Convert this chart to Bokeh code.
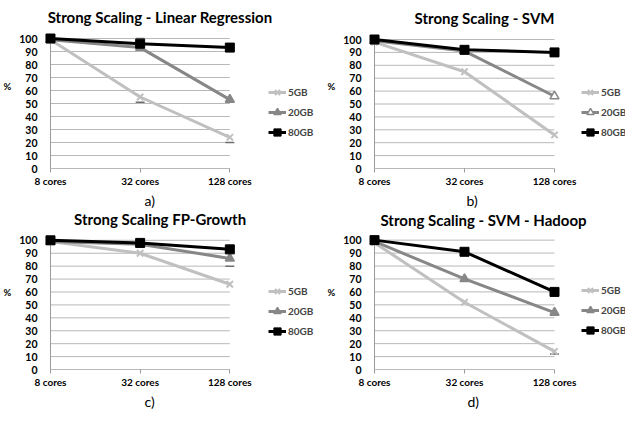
from bokeh.plotting import figure
from bokeh.models import Range1d, FixedTicker, Legend, LegendItem, Title, Label
from bokeh.layouts import column, row
from bokeh.embed import file_html
from bokeh.resources import INLINE

# ---------------- data ----------------
categories = ["8 cores", "32 cores", "128 cores"]
series_names = ["5GB", "20GB", "80GB"]
y_ticks = [0, 10, 20, 30, 40, 50, 60, 70, 80, 90, 100]

titles = ["Strong Scaling - Linear Regression", "Strong Scaling - SVM",
          "Strong Scaling FP-Growth", "Strong Scaling - SVM - Hadoop"]
captions = ["a)", "b)", "c)", "d)"]

lr_5gb = [99, 55, 24]
lr_20gb = [99, 93, 53]
lr_80gb = [100, 96, 93]

svm_5gb = [98, 75, 26]
svm_20gb = [99, 91, 56]
svm_80gb = [100, 92, 90]

fp_5gb = [99, 90, 66]
fp_20gb = [99, 97, 86]
fp_80gb = [100, 98, 93]

had_5gb = [98, 52, 14]
had_20gb = [99, 70, 44]
had_80gb = [100, 91, 60]

# visible error-bar caps (category index, value)
lr_cap_x = [1, 2, 1]
lr_cap_y = [51, 20, 100]
svm_cap_x = []
svm_cap_y = []
fp_cap_x = [2]
fp_cap_y = [80]
had_cap_x = [2, 2]
had_cap_y = [12, 42]

panel_data = [
    (lr_5gb, lr_20gb, lr_80gb, lr_cap_x, lr_cap_y),
    (svm_5gb, svm_20gb, svm_80gb, svm_cap_x, svm_cap_y),
    (fp_5gb, fp_20gb, fp_80gb, fp_cap_x, fp_cap_y),
    (had_5gb, had_20gb, had_80gb, had_cap_x, had_cap_y),
]

# ---------------- layout (pixels from top-left of the layout) ----------------
# fig_left, fig_top, fig_w, fig_h, x_first, x_last, y_100, y_0,
# title_cx, title_cy, caption_left, legend_x, legend_y_first
geoms = [
    (0, 0, 320, 210, 49, 229, 38, 168, 159, 16, 143, 267, 92),
    (320, 0, 305, 210, 374, 554, 39, 168, 484, 17, 466, 581, 92),
    (0, 210, 320, 199, 49, 229, 240, 370, 159, 219, 143, 267, 292),
    (320, 210, 305, 199, 374, 554, 240, 371, 483, 220, 467, 581, 292),
]

FONT = "Lato"
colors = ["#c0c0c0", "#878787", "#000000"]
grid_color = "#b8b8b8"
PAD_X = 6
PAD_BOT = 4
ITEM_H = 20

figs = []
for i, (g, d) in enumerate(zip(geoms, panel_data)):
    (fl, ft, fw, fh, x0p, x2p, y100p, y0p, tcx, tcy, cleft, lgx, lgy) = g
    s5, s20, s80, cap_x, cap_y = d
    n_last = len(categories) - 1
    ppx = (x2p - x0p) / n_last
    ppy = (y0p - y100p) / 100.0
    frame_left = x0p - PAD_X
    frame_top = ft
    frame_bottom = y0p + PAD_BOT
    fr = fl + fw
    fb = ft + fh
    xr = Range1d(-PAD_X / ppx, (fr - x0p) / ppx)
    yr = Range1d(-(frame_bottom - y0p) / ppy, (y0p - frame_top) / ppy)

    p = figure(width=fw, height=fh, x_range=xr, y_range=yr,
               output_backend="svg", toolbar_location=None,
               min_border_left=frame_left - fl, min_border_right=0,
               min_border_top=0, min_border_bottom=fb - frame_bottom,
               outline_line_color=None, background_fill_color="white",
               border_fill_color="white")
    p.xgrid.visible = False
    p.ygrid.visible = False

    def to_data(px, py):
        return (px - x0p) / ppx, (y0p - py) / ppy

    # title (inside the extended frame) and caption below
    tx, ty = to_data(tcx, tcy)
    p.add_layout(Label(x=tx, y=ty, text=titles[i], text_align="center",
                       text_baseline="middle", text_font=FONT, text_font_style="bold",
                       text_font_size="15px", text_color="#000000"))
    p.add_layout(Title(text=captions[i], align="left", offset=cleft - frame_left,
                       text_font=FONT, text_font_style="normal", text_font_size="14px",
                       text_color="#000000", standoff=0), "below")

    # axes
    p.yaxis.ticker = FixedTicker(ticks=y_ticks)
    p.yaxis.axis_line_color = None
    p.yaxis.major_tick_line_color = None
    p.yaxis.minor_tick_line_color = None
    p.yaxis.major_label_standoff = 1
    p.yaxis.major_label_text_font = FONT
    p.yaxis.major_label_text_font_style = "bold"
    p.yaxis.major_label_text_font_size = "10.5px"
    p.yaxis.major_label_text_color = "#000000"
    p.yaxis.axis_label = "%"
    p.yaxis.axis_label_orientation = "horizontal"
    p.yaxis.axis_label_standoff = 5
    p.yaxis.axis_label_text_font = FONT
    p.yaxis.axis_label_text_font_style = "bold"
    p.yaxis.axis_label_text_font_size = "9.5px"
    p.yaxis.axis_label_text_color = "#000000"

    xt = list(range(len(categories)))
    p.xaxis.ticker = FixedTicker(ticks=xt)
    p.xaxis.major_label_overrides = {k: c for k, c in zip(xt, categories)}
    p.xaxis.axis_line_color = None
    p.xaxis.major_tick_in = PAD_BOT
    p.xaxis.major_tick_out = 0
    p.xaxis.major_tick_line_color = "#9a9a9a"
    p.xaxis.minor_tick_line_color = None
    p.xaxis.major_label_standoff = 2
    p.xaxis.major_label_text_font = FONT
    p.xaxis.major_label_text_font_style = "bold"
    p.xaxis.major_label_text_font_size = "10px"
    p.xaxis.major_label_text_color = "#000000"

    # horizontal gridlines from first to last category
    p.segment(x0=[0] * len(y_ticks), x1=[n_last] * len(y_ticks), y0=y_ticks, y1=y_ticks,
              line_color=grid_color, line_width=1)
    # value axis line
    p.segment(x0=[0], x1=[0], y0=[y_ticks[0]], y1=[y_ticks[-1]],
              line_color="#9a9a9a", line_width=1)

    # error caps
    if cap_x:
        p.scatter(cap_x, cap_y, marker="dash", size=9, line_color="#6e6e6e", line_width=1.5)

    items = []
    markers = ["x", "triangle", "square"]
    for k, (vals, name) in enumerate(zip([s5, s20, s80], series_names)):
        lr_ = p.line(xt, vals, line_color=colors[k], line_width=3)
        if markers[k] == "x":
            sr = p.scatter(xt, vals, marker="x", size=9, line_color=colors[k], line_width=2)
        elif markers[k] == "triangle":
            fill = "white" if i == 1 else colors[k]
            sr = p.scatter(xt, vals, marker="triangle", size=9, line_color=colors[k],
                           fill_color=fill, line_width=1.5)
        else:
            sr = p.scatter(xt, vals, marker="square", size=9, line_color=colors[k],
                           fill_color=colors[k])
        items.append(LegendItem(label=name, renderers=[lr_, sr]))

    legend_bottom = lgy - ITEM_H / 2 + ITEM_H * len(series_names)
    leg = Legend(items=items, location=(lgx - frame_left, frame_bottom - legend_bottom),
                 glyph_width=18, glyph_height=ITEM_H, label_height=ITEM_H, spacing=0,
                 padding=0, margin=0, label_standoff=2, border_line_color=None,
                 background_fill_alpha=0, label_text_font=FONT,
                 label_text_font_style="bold", label_text_font_size="10px")
    p.add_layout(leg)
    figs.append(p)

layout = column(row(figs[0], figs[1]), row(figs[2], figs[3]))
open("out.html", "w").write(file_html(layout, INLINE))
